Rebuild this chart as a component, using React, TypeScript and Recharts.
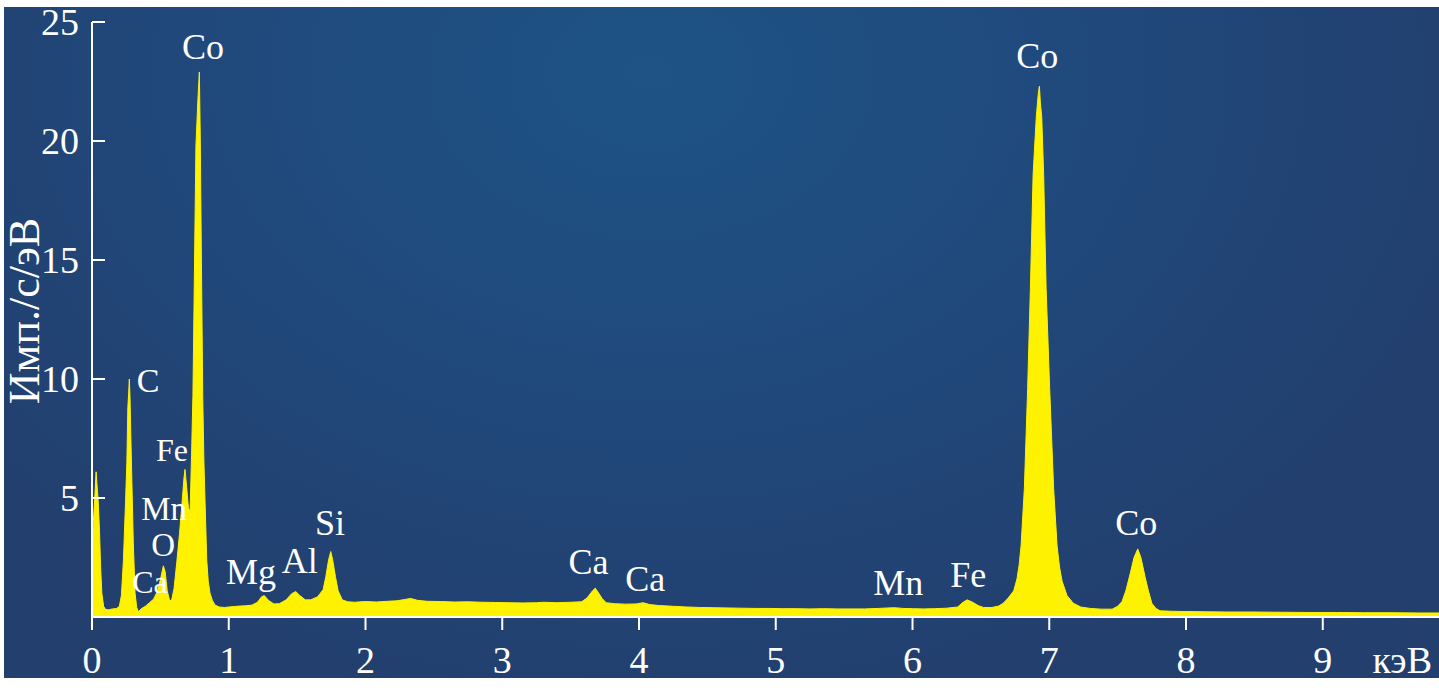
import { Area, AreaChart, ReferenceDot, XAxis, YAxis } from 'recharts';

// EDS spectrum, energy in keV, intensity in imp./s/eV
const energy = [
  0.0, 0.01, 0.022, 0.03, 0.036, 0.045, 0.055, 0.063, 0.072, 0.085, 0.1, 0.12, 0.15, 0.18, 0.2, 0.215,
  0.23, 0.245, 0.255, 0.262, 0.268, 0.273, 0.278, 0.284, 0.292, 0.302, 0.315, 0.327, 0.34, 0.36, 0.39,
  0.42, 0.45, 0.48, 0.505, 0.522, 0.535, 0.55, 0.565, 0.58, 0.6, 0.62, 0.64, 0.66, 0.672, 0.68, 0.69,
  0.705, 0.717, 0.728, 0.738, 0.748, 0.76, 0.775, 0.785, 0.792, 0.8, 0.81, 0.818, 0.827, 0.839, 0.85,
  0.863, 0.88, 0.9, 0.93, 0.97, 1.0, 1.04, 1.08, 1.12, 1.17, 1.21, 1.24, 1.26, 1.29, 1.33, 1.37, 1.42,
  1.46, 1.49, 1.52, 1.56, 1.6, 1.65, 1.69, 1.71, 1.73, 1.746, 1.76, 1.78, 1.8, 1.83, 1.87, 1.92, 2.0,
  2.08, 2.16, 2.23, 2.29, 2.33, 2.38, 2.45, 2.55, 2.65, 2.75, 2.85, 2.95, 3.05, 3.15, 3.25, 3.3, 3.4,
  3.5, 3.58, 3.62, 3.66, 3.68, 3.7, 3.73, 3.76, 3.82, 3.9, 3.98, 4.03, 4.08, 4.15, 4.25, 4.35, 4.45,
  4.55, 4.65, 4.75, 4.85, 4.95, 5.05, 5.15, 5.25, 5.35, 5.45, 5.55, 5.65, 5.75, 5.82, 5.87, 5.93, 6.0,
  6.08, 6.16, 6.25, 6.33, 6.37, 6.4, 6.44, 6.48, 6.52, 6.58, 6.63, 6.664, 6.7, 6.74, 6.764, 6.78, 6.794,
  6.818, 6.842, 6.862, 6.882, 6.905, 6.92, 6.928, 6.935, 6.945, 6.959, 6.977, 7.003, 7.032, 7.057,
  7.075, 7.094, 7.13, 7.176, 7.23, 7.3, 7.38, 7.46, 7.5, 7.532, 7.56, 7.593, 7.62, 7.647, 7.67, 7.7,
  7.725, 7.75, 7.78, 7.81, 7.9, 8.0, 8.15, 8.3, 8.5, 8.7, 8.9, 9.1, 9.3, 9.5, 9.7, 9.85,
];

const counts = [
  2.4, 4.0, 5.2, 6.1, 5.6, 4.9, 3.6, 2.1, 1.0, 0.45, 0.32, 0.3, 0.34, 0.36, 0.45, 0.9,
  2.4, 4.8, 6.5, 8.8, 9.4, 10.0, 9.2, 7.6, 5.6, 3.1, 1.0, 0.4, 0.22, 0.35, 0.45,
  0.6, 0.75, 1.1, 1.7, 2.15, 1.9, 1.1, 0.75, 0.65, 1.2, 2.3, 3.5, 4.9, 5.8, 6.2, 5.6,
  4.6, 4.4, 6.8, 9.3, 14.0, 19.8, 21.8, 22.9, 20.0, 15.0, 9.2, 6.6, 4.8, 2.4, 1.5,
  1.0, 0.7, 0.5, 0.42, 0.4, 0.42, 0.44, 0.46, 0.47, 0.5, 0.62, 0.85, 0.9, 0.7, 0.55, 0.56, 0.72,
  0.98, 1.07, 0.9, 0.72, 0.72, 0.85, 1.15, 1.7, 2.4, 2.75, 2.4, 1.7, 1.1, 0.72, 0.64, 0.62, 0.65,
  0.63, 0.66, 0.68, 0.74, 0.78, 0.7, 0.66, 0.65, 0.63, 0.64, 0.62, 0.61, 0.6, 0.59, 0.6, 0.62, 0.6,
  0.62, 0.64, 0.8, 1.1, 1.21, 1.05, 0.78, 0.6, 0.56, 0.54, 0.55, 0.6, 0.52, 0.48, 0.45, 0.42, 0.4,
  0.39, 0.38, 0.37, 0.36, 0.36, 0.35, 0.35, 0.34, 0.35, 0.34, 0.34, 0.34, 0.36, 0.38, 0.39, 0.36, 0.35,
  0.34, 0.35, 0.37, 0.42, 0.62, 0.72, 0.62, 0.48, 0.4, 0.4, 0.46, 0.58, 0.8, 1.1, 1.6, 2.2, 3.0,
  5.4, 9.6, 13.8, 18.6, 21.0, 22.0, 22.3, 21.6, 21.0, 18.6, 13.8, 9.6, 5.4, 3.0,
  2.1, 1.5, 0.9, 0.58, 0.42, 0.36, 0.33, 0.33, 0.45, 0.65, 1.1, 1.85, 2.5, 2.86, 2.5, 1.7,
  1.1, 0.58, 0.36, 0.26, 0.24, 0.23, 0.22, 0.21, 0.21, 0.2, 0.19, 0.19, 0.18, 0.18, 0.17, 0.17,
];

const xTicks = [0, 1, 2, 3, 4, 5, 6, 7, 8, 9];
const yTicks = [5, 10, 15, 20, 25];

// peak labels: text, energy and intensity of the label centre
const peakNames = ['Co', 'C', 'Fe', 'Mn', 'O', 'Ca', 'Mg', 'Al', 'Si', 'Ca', 'Ca', 'Mn', 'Fe', 'Co', 'Co'];
const peakEnergy = [0.812, 0.41, 0.585, 0.527, 0.52, 0.424, 1.163, 1.52, 1.741, 3.63, 4.045, 5.896, 6.408, 6.913, 7.637];
const peakLevel = [24.0, 9.96, 7.05, 4.55, 3.05, 1.48, 1.94, 2.4, 4.0, 2.36, 1.65, 1.48, 1.81, 23.6, 4.0];
const peakFont = [36, 34, 32, 33, 33, 32, 36, 36, 36, 36, 36, 36, 36, 36, 36];

const data = energy.map((e, i) => ({ e, v: counts[i] }));

const W = 1439;
const H = 688;
const PLOT_LEFT = 92;
const FONT = '"Liberation Serif", "Times New Roman", serif';

function YTick({ y, payload }: any) {
  return (
    <g>
      <line x1={PLOT_LEFT} x2={PLOT_LEFT + 13} y1={y} y2={y} stroke="#fff" strokeWidth={2} />
      <text
        x={PLOT_LEFT - 13}
        y={y}
        textAnchor="end"
        dominantBaseline="central"
        fill="#fff"
        fontSize={38}
        fontFamily={FONT}
      >
        {payload.value}
      </text>
    </g>
  );
}

export default function App() {
  return (
    <div style={{ position: 'absolute', left: 0, top: 0, width: W, height: H, background: '#fff' }}>
      <div
        style={{
          position: 'absolute',
          left: 4,
          top: 7,
          right: 0,
          bottom: 10,
          background:
            'radial-gradient(ellipse 60% 95% at 45% 10%, #1e5386 0%, #204a7d 45%, #223f6e 100%)',
        }}
      />
      <div style={{ position: 'absolute', left: 0, top: 0 }}>
        <AreaChart width={W} height={H} data={data} margin={{ top: 22, right: 0, bottom: 0, left: 0 }}>
          <XAxis
            dataKey="e"
            type="number"
            domain={[0, 9.85]}
            ticks={xTicks}
            allowDataOverflow
            height={71}
            stroke="#fff"
            strokeWidth={2}
            tickSize={13}
            tickMargin={16}
            tickLine={{ stroke: '#fff', strokeWidth: 2 }}
            tick={{ fill: '#fff', fontSize: 38, fontFamily: FONT }}
            label={({ viewBox }: any) => (
              <text
                x={viewBox.x + viewBox.width - 7}
                y={viewBox.y + 56}
                textAnchor="end"
                fill="#fff"
                fontSize={38}
                fontFamily={FONT}
              >
                кэВ
              </text>
            )}
          />
          <YAxis
            type="number"
            domain={[0, 25]}
            ticks={yTicks}
            width={PLOT_LEFT}
            stroke="#fff"
            strokeWidth={2}
            tickLine={false}
            tick={<YTick />}
            label={() => (
              <text
                x={39}
                y={311}
                transform="rotate(-90, 39, 311)"
                textAnchor="middle"
                fill="#fff"
                fontSize={44}
                fontFamily={FONT}
              >
                Имп./с/эВ
              </text>
            )}
          />
          <Area
            type="linear"
            dataKey="v"
            stroke="#fff200"
            strokeWidth={1}
            fill="#fff200"
            fillOpacity={1}
            isAnimationActive={false}
          />
          {peakNames.map((name, i) => (
            <ReferenceDot
              key={i}
              x={peakEnergy[i]}
              y={peakLevel[i]}
              r={0}
              fill="none"
              stroke="none"
              label={{
                value: name,
                position: 'center',
                fill: '#fff',
                fontSize: peakFont[i],
                fontFamily: FONT,
              }}
            />
          ))}
        </AreaChart>
      </div>
    </div>
  );
}
